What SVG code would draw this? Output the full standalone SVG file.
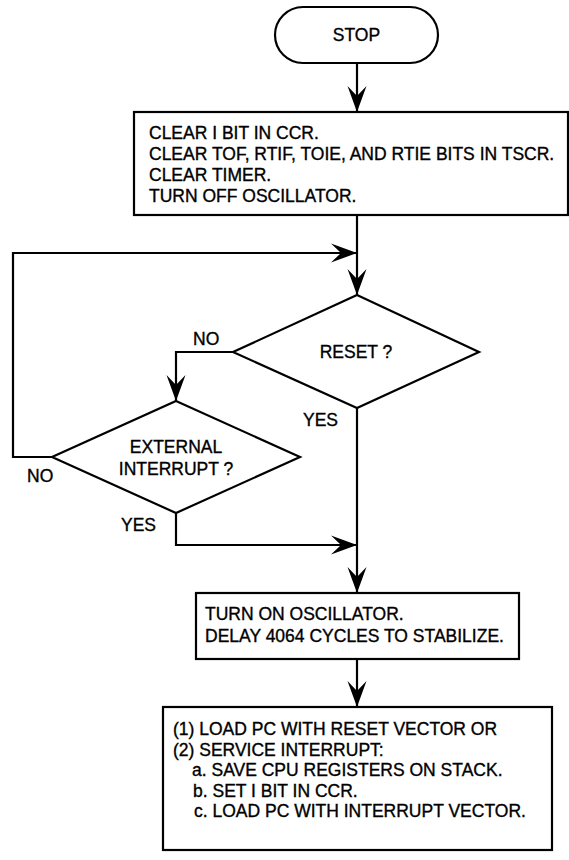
<svg xmlns="http://www.w3.org/2000/svg" width="569" height="860" viewBox="0 0 569 860">
<defs>
<marker id="ah" markerUnits="userSpaceOnUse" markerWidth="30" markerHeight="24" viewBox="-28 -12 30 24" refX="0" refY="0" orient="auto">
<path d="M0,0 L-26,-9.5 L-16,0 L-26,9.5 Z" fill="#000"/>
</marker>
<style>
.s{fill:#fff;stroke:#000;stroke-width:2.2}
.t{font-family:"Liberation Sans",Arial,sans-serif;font-size:17.5px;fill:#000;stroke:#000;stroke-width:0.35}
.c{text-anchor:middle}
.l{fill:none;stroke:#000;stroke-width:2.2}
</style>
</defs>
<rect width="569" height="860" fill="#fff"/>
<g id="connectors">
<path class="l" d="M357,63 V112" marker-end="url(#ah)"/>
<path class="l" d="M357,215 V295" marker-end="url(#ah)"/>
<path class="l" d="M52,457 H13 V253 H357" marker-end="url(#ah)"/>
<path class="l" d="M233,352 H176 V401" marker-end="url(#ah)"/>
<path class="l" d="M357,408 V593" marker-end="url(#ah)"/>
<path class="l" d="M176,513 V545 H357" marker-end="url(#ah)"/>
<path class="l" d="M357,659 V707" marker-end="url(#ah)"/>
<text class="t" x="193" y="345">NO</text>
<text class="t" x="303" y="426">YES</text>
<text class="t" x="27" y="482">NO</text>
<text class="t" x="121" y="531">YES</text>
</g>
<g id="stop">
<rect class="s" x="275" y="7" width="163" height="56" rx="28" ry="28"/>
<text class="t c" x="356.5" y="41">STOP</text>
</g>
<g id="init">
<rect class="s" x="134" y="112" width="434" height="103"/>
<text class="t" x="149" y="139">CLEAR I BIT IN CCR.</text>
<text class="t" x="149" y="160">CLEAR TOF, RTIF, TOIE, AND RTIE BITS IN TSCR.</text>
<text class="t" x="149" y="181">CLEAR TIMER.</text>
<text class="t" x="149" y="202">TURN OFF OSCILLATOR.</text>
</g>
<g id="reset">
<polygon class="s" points="357,295 479,352 357,408 233,352"/>
<text class="t c" x="356" y="358">RESET ?</text>
</g>
<g id="extint">
<polygon class="s" points="176,401 300,457 176,513 52,457"/>
<text class="t c" x="176" y="453">EXTERNAL</text>
<text class="t c" x="176" y="475">INTERRUPT ?</text>
</g>
<g id="osc">
<rect class="s" x="196" y="593" width="323" height="66"/>
<text class="t" x="205" y="620">TURN ON OSCILLATOR.</text>
<text class="t" x="205" y="642">DELAY 4064 CYCLES TO STABILIZE.</text>
</g>
<g id="load">
<rect class="s" x="163" y="707" width="389" height="143"/>
<text class="t" x="173" y="735">(1) LOAD PC WITH RESET VECTOR OR</text>
<text class="t" x="173" y="756">(2) SERVICE INTERRUPT:</text>
<text class="t" x="192" y="776">a. SAVE CPU REGISTERS ON STACK.</text>
<text class="t" x="193" y="797">b. SET I BIT IN CCR.</text>
<text class="t" x="194" y="817">c. LOAD PC WITH INTERRUPT VECTOR.</text>
</g>
</svg>
